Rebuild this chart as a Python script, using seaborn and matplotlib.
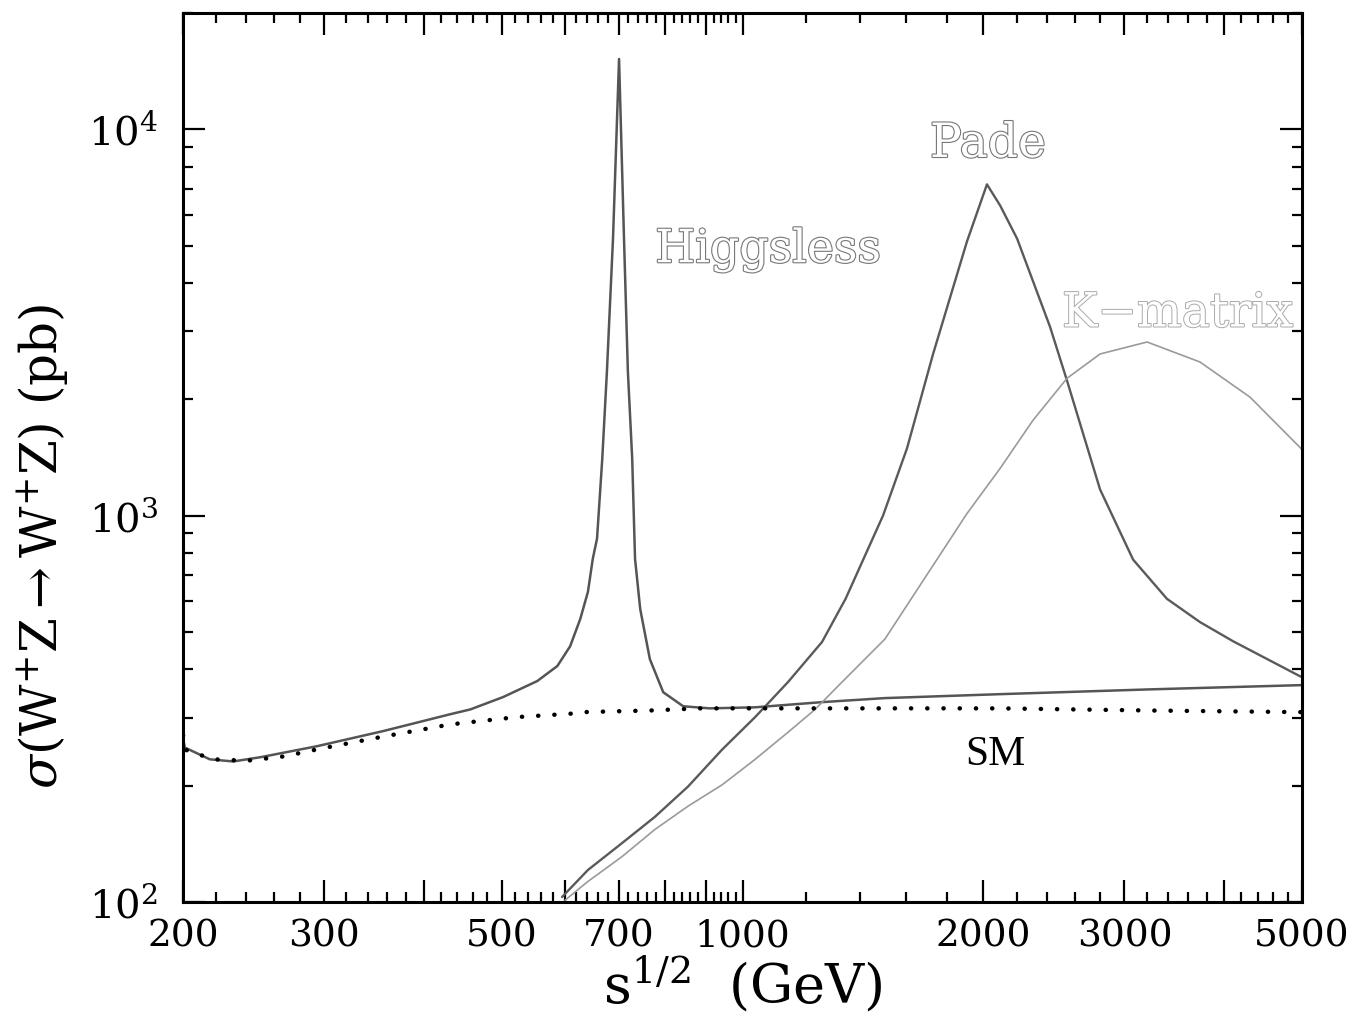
import numpy as np
import matplotlib
matplotlib.use('Agg')
import matplotlib.pyplot as plt
import matplotlib.patheffects as pe
from matplotlib.ticker import FixedLocator, FixedFormatter, LogLocator, NullFormatter
import seaborn as sns

sns.set_style('ticks')
plt.rcParams['font.family'] = ['DejaVu Serif']
plt.rcParams['mathtext.fontset'] = 'dejavuserif'

# sqrt(s) in GeV, sigma in pb
sm_x = [200, 201, 218, 240, 267, 299, 356, 431, 457, 523, 609, 632, 766, 885, 1300, 2098, 3228, 4970, 5000]
sm_y = [270, 248, 234, 232, 238, 250, 268, 288, 292, 301, 307, 310, 313, 317, 317, 317, 313, 310, 310]

higgsless_x = [200, 201, 216, 231, 250, 294, 356, 431, 457, 502, 554, 587, 609, 627, 641, 650, 658, 668,
               677, 689, 701, 711, 719, 728, 734, 745, 766, 796, 843, 910, 1037, 1257, 1506, 2098,
               3228, 4970, 5000]
higgsless_y = [265, 251, 234, 231, 237, 253, 277, 306, 315, 339, 373, 408, 459, 540, 635, 773, 872, 1406,
               2366, 5243, 15200, 5243, 2366, 1406, 773, 573, 425, 349, 321, 317, 319, 329, 337, 345,
               355, 364, 364]

pade_x = [595, 641, 707, 777, 855, 943, 1037, 1140, 1257, 1345, 1498, 1605, 1730, 1907, 2020,
          2098, 2203, 2422, 2544, 2797, 3076, 3390, 3729, 4100, 4970, 5000]
pade_y = [103, 121, 142, 166, 199, 248, 301, 371, 471, 609, 1000, 1493, 2620, 5120, 7200,
          6348, 5210, 3080, 2230, 1168, 769, 609, 530, 473, 384, 382]

kmatrix_x = [600, 641, 707, 777, 855, 943, 1037, 1140, 1232, 1316, 1506, 1907, 2098, 2306, 2544,
             2797, 3202, 3729, 4305, 4970, 5000]
kmatrix_y = [101, 113, 131, 154, 177, 201, 234, 275, 315, 362, 479, 1012, 1325, 1765, 2268,
             2620, 2814, 2497, 2026, 1502, 1480]

fig = plt.figure(figsize=(13.55, 10.26), dpi=100)
ax = fig.add_axes([0.1351, 0.1209, 0.8258, 0.8665])

sns.lineplot(x=higgsless_x, y=higgsless_y, ax=ax, color='#555555', lw=1.8, errorbar=None)
sns.lineplot(x=pade_x, y=pade_y, ax=ax, color='#5a5a5a', lw=1.7, errorbar=None)
sns.lineplot(x=kmatrix_x, y=kmatrix_y, ax=ax, color='#9a9a9a', lw=1.2, errorbar=None)
sns.lineplot(x=sm_x, y=sm_y, ax=ax, color='black', lw=3.2, errorbar=None,
             linestyle=(0, (0.05, 3.6)), dash_capstyle='round')

ax.set_xscale('log')
ax.set_yscale('log')
ax.set_xlim(200, 5000)
ax.set_ylim(100, 2.0e4)

# x ticks: long every 100 up to 1000 and every 1000 above, short in between
major = [200, 300, 400, 500, 600, 700, 800, 900, 1000, 2000, 3000, 4000, 5000]
shown = {200, 300, 500, 700, 1000, 2000, 3000, 5000}
minor = [v for v in list(range(220, 1000, 20)) + list(range(1200, 5000, 200)) if v not in major]
ax.xaxis.set_major_locator(FixedLocator(major))
ax.xaxis.set_major_formatter(FixedFormatter([str(v) if v in shown else '' for v in major]))
ax.xaxis.set_minor_locator(FixedLocator(minor))
ax.xaxis.set_minor_formatter(NullFormatter())
ax.yaxis.set_minor_locator(LogLocator(base=10, subs=np.arange(2, 10)))
ax.yaxis.set_minor_formatter(NullFormatter())

ax.tick_params(which='both', direction='in', top=True, right=True, width=1.6,
               colors='black', labelcolor='black')
ax.tick_params(which='major', length=16, labelsize=27, pad=12)
ax.tick_params(axis='y', which='major', labelsize=29, pad=18)
ax.tick_params(which='minor', length=7)
for s in ax.spines.values():
    s.set_linewidth(2.2)
    s.set_color('black')
    s.set_visible(True)

ax.set_xlabel(r'$\mathrm{s}^{1/2}$  (GeV)', fontsize=39, labelpad=0, color='black')
ax.set_ylabel(r'$\sigma(\mathrm{W^{+}Z \rightarrow W^{+}Z})$ (pb)', fontsize=36, color='black')
ax.yaxis.set_label_coords(-0.1, 0.40)

outline = [pe.withStroke(linewidth=1.6, foreground='#777777')]
ax.text(2026, 9140, 'Pade', fontsize=34, ha='center', va='center', color='white', path_effects=outline)
ax.text(1077, 4874, 'Higgsless', fontsize=33, ha='center', va='center', color='white', path_effects=outline)
ax.text(3500, 3327, 'K\u2212matrix', fontsize=34, ha='center', va='center', color='white',
        path_effects=[pe.withStroke(linewidth=1.4, foreground='#aaaaaa')])
ax.text(2072, 241, 'SM', fontsize=30, ha='center', va='center', color='black', family='Liberation Serif')

fig.savefig('out.png', dpi=100)
